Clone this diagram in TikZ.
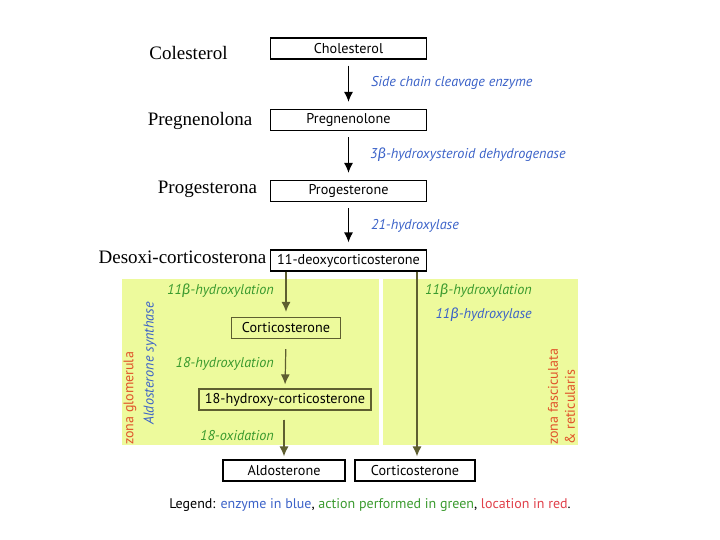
\documentclass[tikz,border=0pt]{standalone}
\usepackage{fontspec}
\setmainfont{PT Sans}
\newfontfamily\seriffont{Liberation Serif}
\newfontfamily\grkfont{Fira Sans}
\newcommand{\bt}{{\grkfont β}}
\usetikzlibrary{arrows.meta}
\definecolor{zy}{HTML}{EDFA9C}
\definecolor{eblue}{HTML}{3B62C8}
\definecolor{agreen}{HTML}{3A9A2E}
\definecolor{zred}{HTML}{E0522A}
\definecolor{lred}{HTML}{E0404A}
\definecolor{olive}{HTML}{5E5E30}
\begin{document}
\begin{tikzpicture}[x=1pt,y=-1pt,
  box/.style={draw,line width=1.2pt,inner sep=0pt,minimum height=21pt,font=\fontsize{14.2}{16}\selectfont},
  ibox/.style={box,draw=olive},
  arr/.style={line width=1.2pt,-{Latex[length=10pt,width=9pt]}},
  iarr/.style={arr,draw=olive,fill=olive},
  enz/.style={text=eblue,font=\fontsize{14.2}{16}\selectfont\itshape,inner sep=0pt},
  act/.style={text=agreen,font=\fontsize{14.2}{16}\selectfont\itshape,inner sep=0pt},
  zone/.style={text=zred,font=\fontsize{14}{16}\selectfont,inner sep=0pt,rotate=90,anchor=west},
  es/.style={font=\seriffont\fontsize{19}{22}\selectfont,inner sep=0pt}]
\useasboundingbox (0,0) rectangle (720,540);
% yellow panels
\fill[zy] (122,279) rectangle (379,445);
\fill[zy] (383,279) rectangle (578,445);
% Spanish labels
\node[es] (l1) at (188.5,53) {Colesterol};
\node[es] (l2) at (200,121) {Pregnenolona};
\node[es] (l3) at (207.5,189) {Progesterona};
\node[es] (l4) at (182.5,257) {Desoxi-corticosterona};
% main boxes
\node[box,minimum width=156pt] (chol) at (348.5,48.5) {Cholesterol};
\node[box,minimum width=156pt] (preg) at (348.5,120) {Pregnenolone};
\node[box,minimum width=156pt] (prog) at (348.5,191) {Progesterone};
\node[box,minimum width=156pt] (deoxy) at (348.5,260.5) {11-deoxycorticosterone};
\draw[arr,shorten <=6pt,shorten >=7pt] (chol.south) -- (preg.north);
\draw[arr,shorten <=6pt,shorten >=7pt] (preg.south) -- (prog.north);
\draw[arr,shorten <=6pt,shorten >=7pt] (prog.south) -- (deoxy.north);
\node[enz,anchor=west] (e1) at (371,83) {Side chain cleavage enzyme};
\node[enz,anchor=west] (e2) at (370,155) {3\bt-hydroxysteroid dehydrogenase};
\node[enz,anchor=west] (e3) at (371,226) {21-hydroxylase};
% inner boxes
\node[ibox,minimum width=109pt] (cort) at (286,328) {Corticosterone};
\node[ibox,minimum width=172pt] (hyd) at (285,399.5) {18-hydroxy-corticosterone};
\node[box,minimum width=122pt] (aldo) at (284,470.5) {Aldosterone};
\node[box,minimum width=120pt] (cort2) at (415,470.5) {Corticosterone};
\draw[iarr,shorten >=5pt] (cort.north |- deoxy.south) -- (cort.north);
\draw[iarr,shorten <=10pt,shorten >=4pt] (cort.south) -- (hyd.north);
\draw[iarr,shorten <=9pt,shorten >=3pt] (hyd.south -| aldo.north) -- (aldo.north);
\draw[iarr,shorten >=3pt] ([xshift=2pt]cort2.north |- deoxy.south) -- ([xshift=2pt]cort2.north);
% action labels
\node[act,anchor=east] (a1) at (274,291) {11\bt-hydroxylation};
\node[act,anchor=east] (a2) at (274,364) {18-hydroxylation};
\node[act,anchor=east] (a3) at (274,436) {18-oxidation};
\node[act,anchor=east] (a4) at (532,291) {11\bt-hydroxylation};
\node[enz,anchor=east] (e4) at (532,315) {11\bt-hydroxylase};
% zones
\node[zone] (z1) at (130,445) {zona glomerula};
\node[enz,rotate=90,anchor=west] (e5) at (150,425) {Aldosterone synthase};
\node[zone] (z2) at (553,445) {zona fasciculata};
\node[zone] (z3) at (570,445) {\& reticularis};
% legend
\node[font=\fontsize{14}{16}\selectfont,inner sep=0pt] (leg) at (370,505) {Legend: \textcolor{eblue}{enzyme in blue}, \textcolor{agreen}{action performed in green}, \textcolor{lred}{location in red}.};
\end{tikzpicture}
\end{document}
